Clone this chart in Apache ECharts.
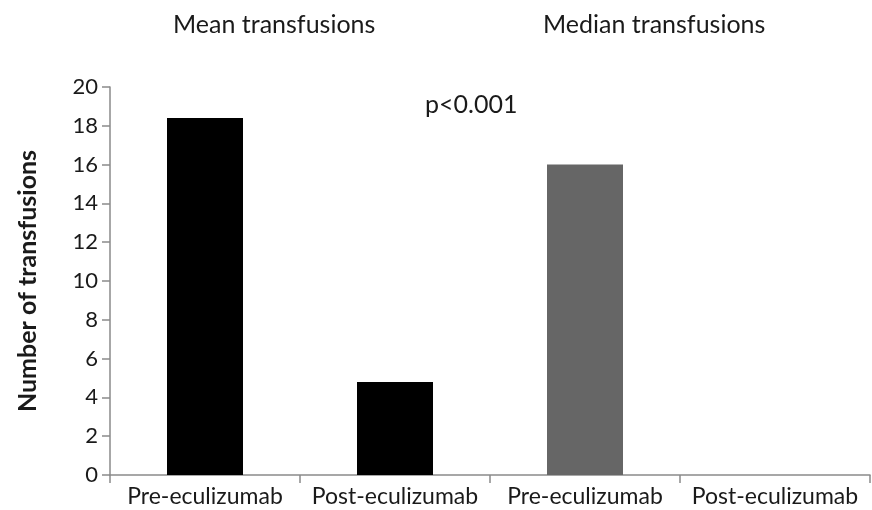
<!DOCTYPE html>
<html>
<head>
<meta charset="utf-8">
<script src="https://cdn.jsdelivr.net/npm/echarts@6/dist/echarts.min.js"></script>
<style>html,body{margin:0;padding:0;background:#fff;}#c{width:872px;height:510px;}</style>
</head>
<body>
<div id="c"></div>
<script>
var categories = ['Pre-eculizumab', 'Post-eculizumab', 'Pre-eculizumab', 'Post-eculizumab'];
var values = [18.4, 4.8, 16.0, 0];
var yTicks = [0, 2, 4, 6, 8, 10, 12, 14, 16, 18, 20];
var groupTitles = ['Mean transfusions', 'Median transfusions'];
var annotation = 'p<0.001';
var yAxisTitle = 'Number of transfusions';

var barColors = ['#000000', '#000000', '#666666', '#666666'];
var FONT = 'Lato, "Open Sans", sans-serif';

var chart = echarts.init(document.getElementById('c'));
chart.setOption({
  animation: false,
  backgroundColor: '#ffffff',
  grid: { left: 110, right: 2, top: 87, bottom: 35, containLabel: false },
  xAxis: {
    type: 'category',
    data: categories,
    boundaryGap: true,
    axisLine: { lineStyle: { color: '#8a8a8a', width: 1.5 } },
    axisTick: { show: true, alignWithLabel: false, length: 8, lineStyle: { color: '#8a8a8a', width: 1.5 } },
    axisLabel: { color: '#1a1a1a', fontSize: 23, fontFamily: FONT, margin: 10, interval: 0 }
  },
  yAxis: {
    type: 'value',
    min: yTicks[0],
    max: yTicks[yTicks.length - 1],
    interval: yTicks[1] - yTicks[0],
    name: yAxisTitle,
    nameLocation: 'middle',
    nameGap: 70,
    nameRotate: 90,
    nameTextStyle: { color: '#1a1a1a', fontSize: 25, fontWeight: 'bold', fontFamily: FONT },
    splitLine: { show: false },
    axisLine: { show: true, lineStyle: { color: '#8a8a8a', width: 1.5 } },
    axisTick: { show: true, length: 8, lineStyle: { color: '#8a8a8a', width: 1.5 } },
    axisLabel: { color: '#1a1a1a', fontSize: 22, fontFamily: FONT, margin: 12 }
  },
  series: [{
    type: 'bar',
    data: values,
    barWidth: '40%',
    itemStyle: { color: function (p) { return barColors[p.dataIndex]; } }
  }],
  graphic: [
    { type: 'text', left: 173, top: 12, style: { text: groupTitles[0], fill: '#1a1a1a', font: '25px ' + FONT } },
    { type: 'text', left: 543, top: 12, style: { text: groupTitles[1], fill: '#1a1a1a', font: '25px ' + FONT } },
    { type: 'text', left: 425, top: 92, style: { text: annotation, fill: '#1a1a1a', font: '25px ' + FONT } }
  ]
});
</script>
</body>
</html>
